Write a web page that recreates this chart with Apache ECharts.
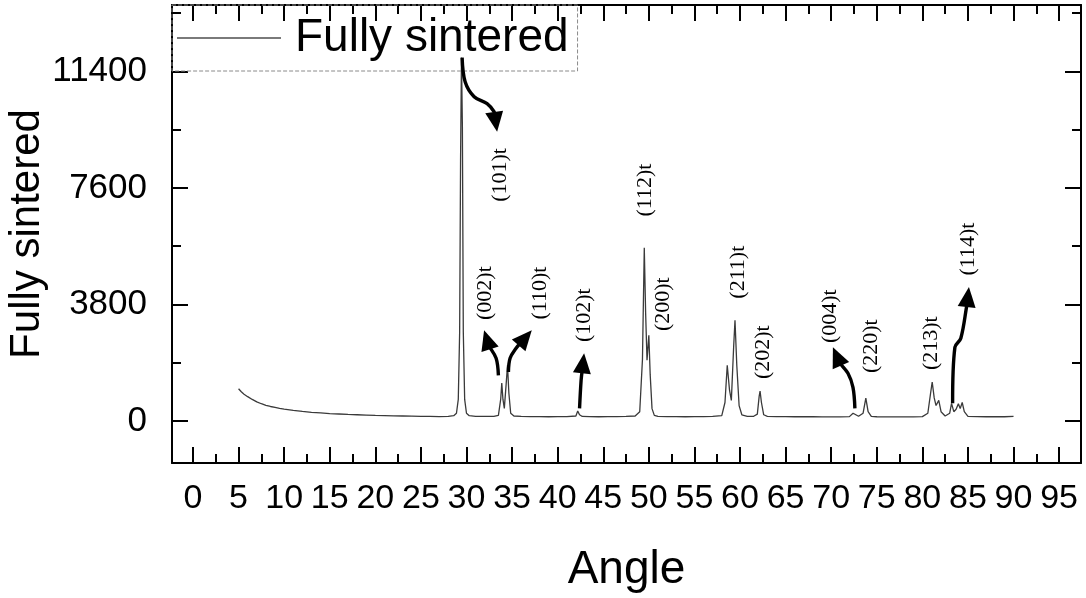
<!DOCTYPE html>
<html><head><meta charset="utf-8">
<script src="https://cdn.jsdelivr.net/npm/echarts@6/dist/echarts.min.js"></script>
<style>html,body{margin:0;padding:0;background:#fff}#c{width:1086px;height:598px}</style>
</head><body><div id="c"></div>
<script>
// ---- data ----
const angles = [5.0,5.3,5.6,6.0,6.5,7.0,7.5,8.0,8.5,9.0,9.5,10.0,11.0,12.0,13.0,14.0,15.0,16.0,17.0,18.0,19.0,20.0,21.0,22.0,23.0,24.0,25.0,26.0,27.0,28.0,28.6,28.9,29.1,29.25,29.35,29.45,29.55,29.65,29.8,30.0,30.3,31.0,32.0,33.0,33.5,33.75,33.87,34.0,34.15,34.35,34.5,34.65,34.85,35.2,36.0,37.0,38.0,39.0,40.0,41.0,42.0,42.2,42.4,42.7,43.5,44.5,45.5,46.5,47.5,48.5,49.0,49.3,49.5,49.65,49.8,50.0,50.15,50.35,50.6,51.0,52.0,53.0,54.0,55.0,56.0,57.0,58.0,58.35,58.6,58.85,59.05,59.3,59.45,59.65,59.9,60.2,60.8,61.5,61.9,62.1,62.2,62.35,62.6,63.0,64.0,65.0,66.0,67.0,68.0,69.0,70.0,71.0,72.0,72.4,72.6,73.0,73.5,73.8,74.05,74.4,75.0,76.0,77.0,78.0,79.0,80.0,80.6,80.9,81.08,81.3,81.5,81.8,82.05,82.5,83.0,83.2,83.45,83.7,83.95,84.15,84.37,84.6,85.0,86.0,87.0,88.0,89.0,90.0];
const intensities = [1050,950,870,790,700,620,560,510,470,440,410,385,345,310,280,260,240,225,210,200,190,180,175,165,160,155,150,145,140,150,170,250,700,2900,8500,11850,9600,2900,700,250,170,150,145,150,180,700,1235,700,410,1200,1813,900,250,160,145,140,140,135,140,140,160,320,200,145,140,135,140,140,145,160,300,2000,5650,3500,1980,2795,1500,400,180,150,140,140,135,140,140,145,170,600,1813,1000,670,2400,3285,1800,500,200,150,150,220,800,975,600,200,150,140,140,135,140,135,130,130,130,140,250,220,150,250,745,300,150,135,130,130,130,130,140,250,900,1268,750,500,670,300,160,250,570,300,380,560,400,600,300,150,140,135,140,135,145];
const seriesName = 'Fully sintered';
const xTickValues = [0,5,10,15,20,25,30,35,40,45,50,55,60,65,70,75,80,85,90,95];
const xMinorTickValues = [2.5,7.5,12.5,17.5,22.5,27.5,32.5,37.5,42.5,47.5,52.5,57.5,62.5,67.5,72.5,77.5,82.5,87.5,92.5];
const yTickValues = [0,3800,7600,11400];
const yMinorTickValues = [1900,5700,9500,13300];
const peakLabels = ['(101)t','(002)t','(110)t','(102)t','(112)t','(200)t','(211)t','(202)t','(004)t','(220)t','(213)t','(114)t'];
const peakLabelAngles = [33.69,32.07,38.07,42.90,49.60,51.57,59.81,62.55,69.86,74.43,80.94,85.03];
const peakLabelIntensities = [8023,4167,4167,3448,7530,3807,4850,2240,3415,2435,2533,5605];
const arrow101 = [[29.52,11848],[29.85,11064],[30.84,10574],[32.26,10345],[33.03,10084],[33.36,9430]];
const arrow002 = [[33.50,1487],[33.25,2043],[32.48,2435],[31.93,2958]];
const arrow110 = [[34.60,1595],[34.78,2043],[35.44,2370],[37.16,2958]];
const arrow102 = [[42.40,409],[42.57,1324],[42.90,2206]];
const arrow004 = [[72.60,409],[72.39,1095],[71.84,1553],[70.96,1879],[70.19,2402]];
const arrow114 = [[83.32,572],[83.57,2402],[84.22,2696],[84.88,3775],[85.11,4363]];
const arrowPaths = [arrow101,arrow002,arrow110,arrow102,arrow004,arrow114];

const xMin = -2.3, xMax = 97.4, yMin = -1373, yMax = 13564;

const chart = echarts.init(document.getElementById('c'), null, {renderer:'canvas'});
const sans = 'Liberation Sans';
const points = angles.map((a,i)=>[a,intensities[i]]);
const plain = v => String(v);

function xAxisDef(pos, ticks, len, showLine, showLabel){
  return {
    type:'value', position:pos, min:xMin, max:xMax,
    axisLine:{show:showLine, onZero:false, lineStyle:{color:'#000', width:2}},
    axisTick:{show:true, inside:true, length:len, customValues:ticks, lineStyle:{color:'#000', width:2}},
    axisLabel:{show:showLabel, customValues:ticks, formatter:plain, margin:19, fontSize:34, color:'#000', fontFamily:sans},
    splitLine:{show:false},
    name: showLabel ? 'Angle' : '', nameLocation:'middle', nameGap:84, nameMoveOverlap:false,
    nameTextStyle:{fontSize:46, color:'#000', fontFamily:sans}
  };
}
function yAxisDef(pos, ticks, len, showLine, showLabel){
  return {
    type:'value', position:pos, min:yMin, max:yMax,
    axisLine:{show:showLine, onZero:false, lineStyle:{color:'#000', width:2}},
    axisTick:{show:true, inside:true, length:len, customValues:ticks, lineStyle:{color:'#000', width:2}},
    axisLabel:{show:showLabel, customValues:ticks, formatter:plain, margin:25, fontSize:35, color:'#000', fontFamily:sans},
    splitLine:{show:false},
    name: showLabel ? 'Fully sintered' : '', nameLocation:'middle', nameGap:124, nameMoveOverlap:false,
    nameTextStyle:{fontSize:42, color:'#000', fontFamily:sans}
  };
}

chart.setOption({
  animation:false,
  backgroundColor:'#fff',
  grid:{left:172, right:5, top:5, bottom:135, containLabel:false, outerBoundsMode:'none'},
  legend:{
    show:true, left:172, top:5, padding:[10,9,10,5],
    itemWidth:104, itemHeight:2,
    borderColor:'#8a8a8a', borderWidth:1, borderType:'dashed',
    textStyle:{fontSize:46, color:'#000', fontFamily:sans, padding:[0,0,0,9]},
    data:[{name:seriesName, icon:'rect', itemStyle:{color:'#7a7a7a', borderWidth:0}}]
  },
  xAxis:[
    xAxisDef('bottom', xTickValues, 16, true, true),
    xAxisDef('bottom', xMinorTickValues, 9, false, false),
    xAxisDef('top', xTickValues, 16, true, false),
    xAxisDef('top', xMinorTickValues, 9, false, false)
  ],
  yAxis:[
    yAxisDef('left', yTickValues, 16, true, true),
    yAxisDef('left', yMinorTickValues, 9, false, false),
    yAxisDef('right', yTickValues, 16, true, false),
    yAxisDef('right', yMinorTickValues, 9, false, false)
  ],
  series:[{
    name:seriesName, type:'line', xAxisIndex:0, yAxisIndex:0,
    data:points, symbol:'none', showSymbol:false,
    lineStyle:{color:'#3a3a3a', width:1.3}, z:3
  }]
});

function drawAnnotations(){
  const els = [];
  const toPx = d => chart.convertToPixel({seriesIndex:0}, d);
  peakLabels.forEach((t,i)=>{
    const p = toPx([peakLabelAngles[i], peakLabelIntensities[i]]);
    els.push({type:'text', x:p[0], y:p[1], rotation:Math.PI/2, z:100,
      style:{text:t, font:'22px "Liberation Serif"', fill:'#000', align:'center', verticalAlign:'middle'}});
  });
  arrowPaths.forEach(path=>{
    const pts = path.map(toPx);
    const n = pts.length;
    const tip = pts[n-1], prev = pts[n-2];
    const dx = tip[0]-prev[0], dy = tip[1]-prev[1];
    const L = Math.hypot(dx,dy), ux = dx/L, uy = dy/L;
    const headLen = 20, headW = 9;
    const bx = tip[0]-ux*headLen, by = tip[1]-uy*headLen;
    const shaft = pts.slice(0,n-1).concat([[bx+ux*3,by+uy*3]]);
    els.push({type:'polyline', z:100, shape:{points:shaft, smooth:0.35}, style:{stroke:'#000', lineWidth:3.4, fill:null}});
    els.push({type:'polygon', z:100, shape:{points:[tip,[bx-uy*headW,by+ux*headW],[bx+uy*headW,by-ux*headW]]}, style:{fill:'#000', stroke:null}});
  });
  chart.setOption({graphic:els});
}
drawAnnotations();
</script>
</body></html>
